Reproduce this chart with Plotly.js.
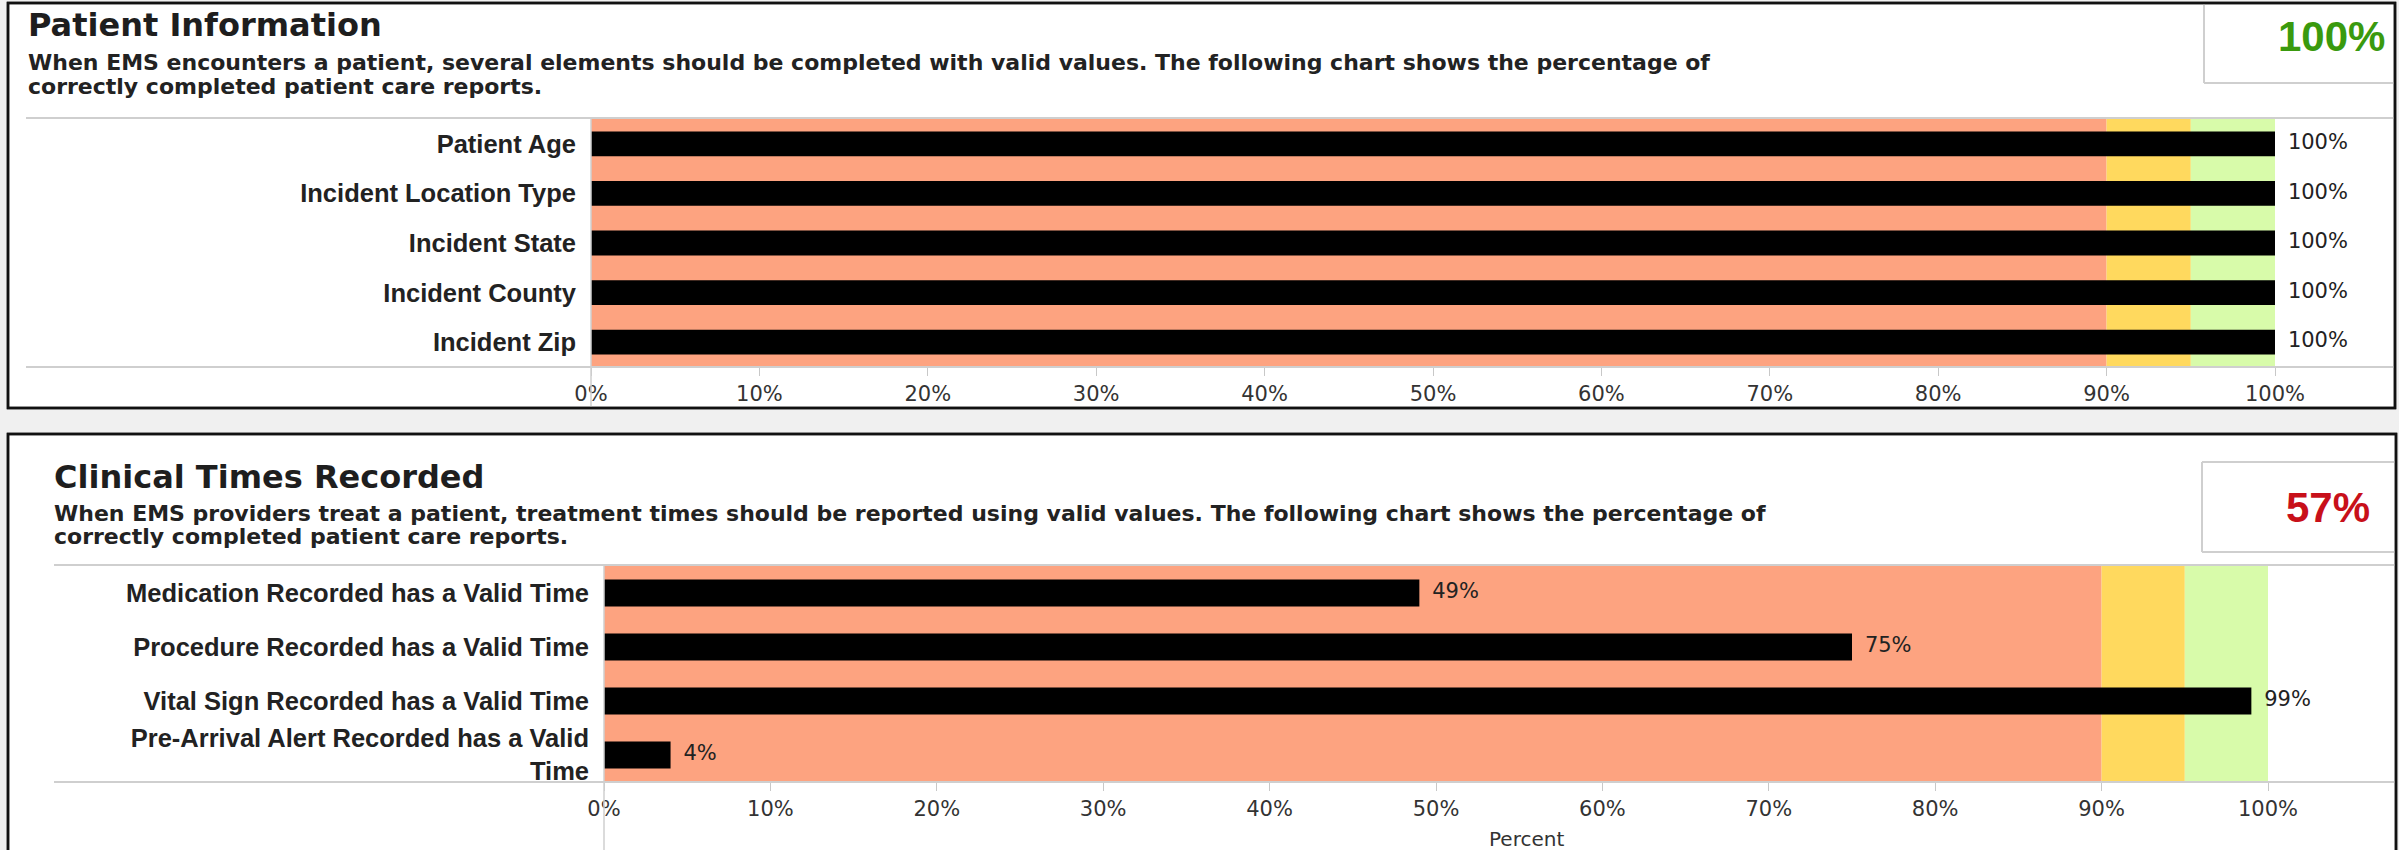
<!DOCTYPE html>
<html><head><meta charset="utf-8">
<script src="https://cdn.plot.ly/plotly-3.0.1.min.js"></script>
<style>html,body{margin:0;padding:0;background:#f0f0f0;overflow:hidden}#chart{width:2399px;height:850px}</style>
</head><body><div id="chart"></div>
<script>
// ---------- data ----------
const patientCategories = ["Patient Age", "Incident Location Type", "Incident State", "Incident County", "Incident Zip"];
const patientValues = [100, 100, 100, 100, 100];

const clinicalCategories = ["Medication Recorded has a Valid Time", "Procedure Recorded has a Valid Time", "Vital Sign Recorded has a Valid Time", "Pre-Arrival Alert Recorded has a Valid<br>Time"];
const clinicalValues = [49, 75, 99, 4];

const tickValues = [0, 10, 20, 30, 40, 50, 60, 70, 80, 90, 100];
const tickLabels = ["0%", "10%", "20%", "30%", "40%", "50%", "60%", "70%", "80%", "90%", "100%"];

const bandEdges = [0, 90, 95, 100];
const bandColors = ["#FDA380", "#FFD95E", "#D8FBAA"];

const panelTitles = ["Patient Information", "Clinical Times Recorded"];
const panelSubtitles = [
  ["When EMS encounters a patient, several elements should be completed with valid values. The following chart shows the percentage of", "correctly completed patient care reports."],
  ["When EMS providers treat a patient, treatment times should be reported using valid values. The following chart shows the percentage of", "correctly completed patient care reports."]
];
const overallScores = ["100%", "57%"];
const scoreColors = ["#3A9A0E", "#C8101A"];
const xAxisTitle = "Percent";

// ---------- layout helpers ----------
const W = 2399, H = 850;
const fx = p => p / W;
const fy = p => 1 - p / H;

const labelFont = {family: "Liberation Sans, Arial, sans-serif", size: 25.5, color: "#222", weight: 700};
const tickFont = {family: "DejaVu Sans, sans-serif", size: 21, color: "#333"};
const valueFont = {family: "DejaVu Sans, sans-serif", size: 21, color: "#222"};

function barTrace(cats, vals, xa, ya) {
  return {type: "bar", orientation: "h", x: vals, y: cats, xaxis: xa, yaxis: ya,
    marker: {color: "#000000", line: {width: 0}}, hoverinfo: "skip"};
}
function labelTrace(cats, vals, xa, ya) {
  return {type: "scatter", mode: "markers+text", x: vals, y: cats, xaxis: xa, yaxis: ya,
    text: vals.map(v => v + "%"), textposition: "middle right", textfont: valueFont,
    marker: {size: 19, color: "rgba(0,0,0,0)"}, cliponaxis: false, hoverinfo: "skip"};
}

const data = [
  barTrace(patientCategories, patientValues, "x", "y"),
  labelTrace(patientCategories, patientValues, "x", "y"),
  barTrace(clinicalCategories, clinicalValues, "x2", "y2"),
  labelTrace(clinicalCategories, clinicalValues, "x2", "y2")
];

function xAxis(d0, d1, anchor) {
  return {domain: [fx(d0), fx(d1)], anchor: anchor, range: [0, 100], tickmode: "array",
    tickvals: tickValues, ticktext: tickLabels, ticks: "outside", ticklen: 8, tickwidth: 1,
    tickcolor: "#c8c8c8", ticklabelstandoff: 0, showgrid: false, zeroline: false, showline: false,
    tickfont: tickFont, fixedrange: true};
}
function yAxis(top, bottom, anchor) {
  return {domain: [fy(bottom), fy(top)], anchor: anchor, type: "category", autorange: "reversed",
    ticks: "", showgrid: false, zeroline: false, showline: false, tickfont: labelFont,
    ticklabelstandoff: 14, fixedrange: true};
}

// panel geometry (pixels)
const P1 = {left: 8, right: 2395, top: 3, bottom: 408, sepX: 26, plotL: 591, plotR: 2275, plotT: 119, plotB: 367, boxL: 2204, boxB: 83};
const P2 = {left: 8, right: 2396, top: 434, bottom: 900, sepX: 54, plotL: 604, plotR: 2268, plotT: 566, plotB: 782, boxL: 2202, boxT: 462, boxB: 552};

const grey = "#cfcfcf";
function line(x0, y0, x1, y1, color, w) {
  return {type: "line", xref: "paper", yref: "paper", x0: fx(x0), y0: fy(y0), x1: fx(x1), y1: fy(y1),
    line: {color: color, width: w}, layer: "above"};
}

const shapes = [];
[P1, P2].forEach(p => {
  shapes.push({type: "rect", xref: "paper", yref: "paper", x0: fx(p.left), x1: fx(p.right), y0: fy(p.bottom), y1: fy(p.top),
    fillcolor: "#ffffff", line: {color: "#111111", width: 2.5}, layer: "below"});
});
[["x", "y domain"], ["x2", "y2 domain"]].forEach(refs => {
  for (let i = 0; i < bandColors.length; i++) {
    shapes.push({type: "rect", xref: refs[0], yref: refs[1], x0: bandEdges[i], x1: bandEdges[i + 1], y0: 0, y1: 1,
      fillcolor: bandColors[i], line: {width: 0}, layer: "below"});
  }
});
// separators & axis lines
shapes.push(line(P1.sepX, P1.plotT - 1, P1.right, P1.plotT - 1, grey, 2));
shapes.push(line(P1.sepX, P1.plotB, P1.right, P1.plotB, grey, 2));
shapes.push(line(P1.plotL, P1.plotT - 1, P1.plotL, P1.bottom, grey, 1.5));
shapes.push(line(P2.sepX, P2.plotT - 1, P2.right, P2.plotT - 1, grey, 2));
shapes.push(line(P2.sepX, P2.plotB, P2.right, P2.plotB, grey, 2));
shapes.push(line(P2.plotL, P2.plotT - 1, P2.plotL, 850, grey, 1.5));
// score boxes
shapes.push(line(P1.boxL, P1.top, P1.boxL, P1.boxB, grey, 2));
shapes.push(line(P1.boxL, P1.boxB, P1.right, P1.boxB, grey, 2));
shapes.push(line(P2.boxL, P2.boxT, P2.right, P2.boxT, grey, 2));
shapes.push(line(P2.boxL, P2.boxT, P2.boxL, P2.boxB, grey, 2));
shapes.push(line(P2.boxL, P2.boxB, P2.right, P2.boxB, grey, 2));
// panel borders on top
[P1, P2].forEach(p => {
  shapes.push({type: "rect", xref: "paper", yref: "paper", x0: fx(p.left), x1: fx(p.right), y0: fy(p.bottom), y1: fy(p.top),
    line: {color: "#111111", width: 2.5}, layer: "above"});
});

const titleFont = {family: "DejaVu Sans, sans-serif", size: 32, color: "#1e1e1e", weight: 700};
const subFont = {family: "DejaVu Sans, sans-serif", size: 22, color: "#222", weight: 700};
const scoreFont = {family: "Liberation Sans, Arial, sans-serif", size: 42, weight: 700};

function ann(text, xpx, ypx, xanchor, font) {
  return {text: text, xref: "paper", yref: "paper", x: fx(xpx), y: fy(ypx), xanchor: xanchor, yanchor: "middle",
    showarrow: false, font: font, align: xanchor === "right" ? "right" : "left"};
}
const annotations = [
  ann(panelTitles[0], 26, 25, "left", titleFont),
  ann(panelSubtitles[0][0], 26, 62, "left", subFont),
  ann(panelSubtitles[0][1], 26, 86, "left", subFont),
  ann(overallScores[0], 2387, 36, "right", Object.assign({}, scoreFont, {color: scoreColors[0]})),
  ann(panelTitles[1], 52, 477, "left", titleFont),
  ann(panelSubtitles[1][0], 52, 513, "left", subFont),
  ann(panelSubtitles[1][1], 52, 536, "left", subFont),
  ann(overallScores[1], 2372, 507, "right", Object.assign({}, scoreFont, {color: scoreColors[1]})),
  ann(xAxisTitle, 1527, 839, "center", {family: "DejaVu Sans, sans-serif", size: 20, color: "#333"})
];

const layout = {
  width: W, height: H, margin: {l: 0, r: 0, t: 0, b: 0},
  paper_bgcolor: "#f0f0f0", plot_bgcolor: "rgba(0,0,0,0)",
  showlegend: false, bargap: 0.5,
  xaxis: xAxis(P1.plotL, P1.plotR, "y"),
  yaxis: yAxis(P1.plotT, P1.plotB, "x"),
  xaxis2: xAxis(P2.plotL, P2.plotR, "y2"),
  yaxis2: yAxis(P2.plotT, P2.plotB, "x2"),
  shapes: shapes,
  annotations: annotations
};

Plotly.newPlot("chart", data, layout, {displayModeBar: false, staticPlot: true});
</script>
</body></html>
